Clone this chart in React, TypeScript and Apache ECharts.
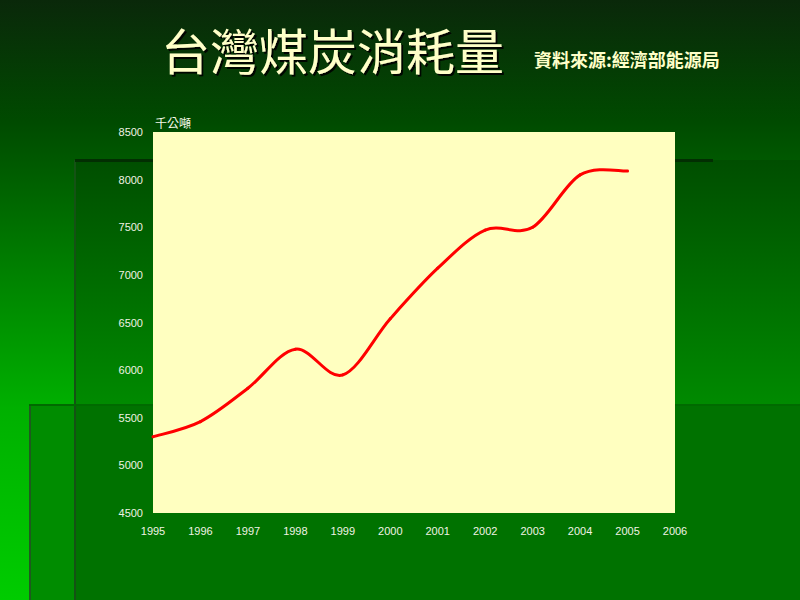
import React, { useEffect, useRef } from "react";
import * as echarts from "echarts";

const years = [1995, 1996, 1997, 1998, 1999, 2000, 2001, 2002, 2003, 2004, 2005];
const consumption = [5300, 5460, 5810, 6220, 5950, 6540, 7070, 7470, 7500, 8050, 8090];
const yMin = 4500;
const yMax = 8500;
const yStep = 500;
const xMin = 1995;
const xMax = 2006;
const titleText = "台灣煤炭消耗量";
const sourceText = "資料來源:經濟部能源局";
const unitText = "千公噸";

export default function App() {
  const ref = useRef<HTMLDivElement>(null);
  useEffect(() => {
    if (!ref.current) return;
    const chart = echarts.init(ref.current, undefined, { renderer: "svg" });
    const lg = (stops: [number, string][]) =>
      new echarts.graphic.LinearGradient(0, 0, 0, 1, stops.map(([offset, color]) => ({ offset, color })));
    const n = years.length;
    chart.setOption({
      animation: false,
      backgroundColor: lg([
        [0, "#0a280a"],
        [0.2, "#004a00"],
        [0.45, "#008000"],
        [0.68, "#00b000"],
        [1, "#00cc00"],
      ]),
      title: [
        {
          text: titleText,
          left: 161,
          top: 24,
          padding: 0,
          textStyle: {
            fontFamily: "Noto Sans CJK TC",
            fontSize: 49,
            fontWeight: "normal",
            color: "#FFFFC8",
            textShadowColor: "rgba(0,0,0,0.9)",
            textShadowOffsetX: 2,
            textShadowOffsetY: 2,
            textShadowBlur: 1,
          },
        },
        {
          text: sourceText,
          left: 534,
          top: 50,
          padding: 0,
          textStyle: {
            fontFamily: "Noto Sans CJK TC",
            fontSize: 18,
            fontWeight: "bold",
            color: "#FFFFC8",
            textShadowColor: "rgba(0,0,0,0.9)",
            textShadowOffsetX: 1,
            textShadowOffsetY: 1,
          },
        },
      ],
      graphic: [
        { type: "rect", z: -100, silent: true, shape: { x: 75, y: 160, width: 725, height: 245 }, style: { fill: lg([[0, "#004e00"], [1, "#008a00"]]) } },
        { type: "rect", z: -100, silent: true, shape: { x: 75, y: 405, width: 725, height: 195 }, style: { fill: "#007200" } },
        { type: "rect", z: -100, silent: true, shape: { x: 29, y: 405, width: 46, height: 195 }, style: { fill: "#008c00" } },
        { type: "rect", z: -99, silent: true, shape: { x: 74, y: 160, width: 2, height: 440 }, style: { fill: "#145214" } },
        { type: "rect", z: -99, silent: true, shape: { x: 75, y: 159, width: 638, height: 3 }, style: { fill: "#022e02" } },
        { type: "rect", z: -99, silent: true, shape: { x: 29, y: 405, width: 2, height: 195 }, style: { fill: "#1f5a1f" } },
        { type: "rect", z: -99, silent: true, shape: { x: 29, y: 404, width: 771, height: 2 }, style: { fill: "#006a00" } },
        {
          type: "text",
          left: 155,
          top: 116,
          style: { text: unitText, fill: "#F4F8E8", font: "12px 'Noto Sans CJK TC'" },
        },
      ],
      grid: {
        left: 153,
        right: 125,
        top: 132,
        bottom: 87,
        show: true,
        backgroundColor: "#FFFFC0",
        borderWidth: 0,
      },
      xAxis: {
        type: "value",
        min: xMin,
        max: xMax,
        interval: 1,
        axisLine: { show: false },
        axisTick: { show: false },
        splitLine: { show: false },
        axisLabel: {
          color: "#F0F2E4",
          fontFamily: "Arial, Liberation Sans",
          fontSize: 11,
          margin: 12,
          formatter: (v: number) => String(v),
        },
      },
      yAxis: {
        type: "value",
        min: yMin,
        max: yMax,
        interval: yStep,
        axisLine: { show: false },
        axisTick: { show: false },
        splitLine: { show: false },
        axisLabel: {
          color: "#F0F2E4",
          fontFamily: "Arial, Liberation Sans",
          fontSize: 11,
          margin: 10,
          formatter: (v: number) => String(v),
        },
      },
      series: [
        {
          type: "custom",
          data: years.map((y, i) => [y, consumption[i]]),
          encode: { x: 0, y: 1 },
          clip: false,
          renderItem: (params: any, api: any) => {
            const i = params.dataIndex;
            if (i >= n - 1) return null;
            const p = (k: number) => {
              const j = Math.max(0, Math.min(n - 1, k));
              return api.coord([years[j], consumption[j]]);
            };
            const p0 = p(i - 1);
            const p1 = p(i);
            const p2 = p(i + 1);
            const p3 = p(i + 2);
            const c1 = [p1[0] + (p2[0] - p0[0]) / 6, p1[1] + (p2[1] - p0[1]) / 6];
            const c2 = [p2[0] - (p3[0] - p1[0]) / 6, p2[1] - (p3[1] - p1[1]) / 6];
            return {
              type: "bezierCurve",
              shape: { x1: p1[0], y1: p1[1], cpx1: c1[0], cpy1: c1[1], cpx2: c2[0], cpy2: c2[1], x2: p2[0], y2: p2[1] },
              style: { stroke: "#FF0000", lineWidth: 3, fill: "none", lineCap: "round" },
            };
          },
        },
      ],
    });
    return () => chart.dispose();
  }, []);
  return <div ref={ref} style={{ width: 800, height: 600, position: "absolute", left: 0, top: 0 }} />;
}
